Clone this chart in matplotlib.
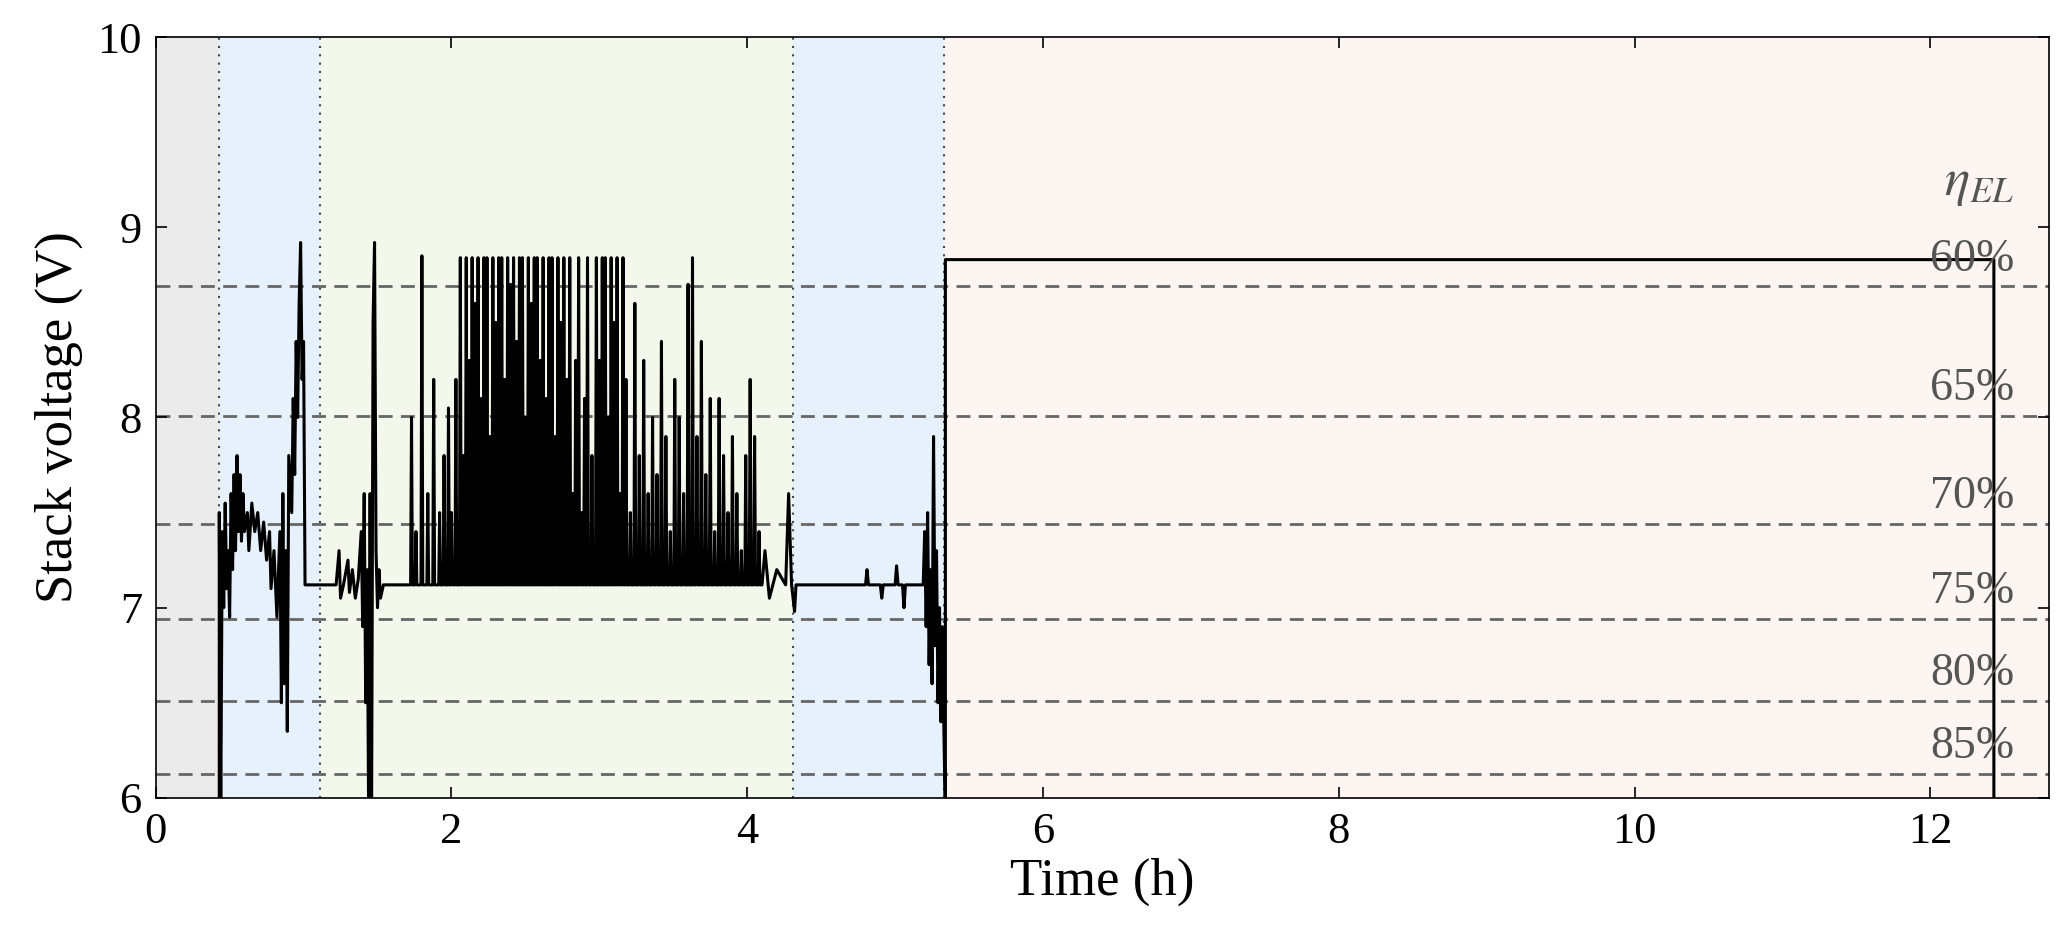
import matplotlib
matplotlib.use("Agg")
import matplotlib.pyplot as plt

plt.rcParams['font.family'] = ['Liberation Serif', 'DejaVu Serif']
plt.rcParams['mathtext.fontset'] = 'stix'

# phases (start, end, colour)
phase_edges = [0.0, 0.43, 1.11, 4.31, 5.33, 12.8]
phase_colors = ['#ebebeb', '#e6f1fb', '#f3f8ec', '#e6f1fb', '#fdf5f2']
divider_t = [0.43, 1.11, 4.31, 5.33]

eff_labels = ['60%', '65%', '70%', '75%', '80%', '85%']
eff_v = [8.69, 8.01, 7.44, 6.94, 6.51, 6.125]

base_v = 7.12
head_t = [0.43, 0.43, 0.44, 0.45, 0.46, 0.47, 0.48, 0.49, 0.50, 0.51, 0.52, 0.53, 0.54, 0.55, 0.56, 0.57, 0.58,
          0.59, 0.60, 0.62, 0.63, 0.65, 0.67, 0.69, 0.71, 0.73, 0.75, 0.77, 0.78, 0.80, 0.82, 0.84, 0.85, 0.86,
          0.87, 0.88, 0.89, 0.90, 0.92, 0.93, 0.94, 0.95, 0.96, 0.97, 0.98, 0.99, 1.00, 1.01, 1.22,
          1.24, 1.25, 1.27, 1.30, 1.31, 1.33, 1.35, 1.37, 1.39, 1.40, 1.41, 1.42, 1.43, 1.44, 1.45, 1.46, 1.47,
          1.48, 1.49, 1.50, 1.51, 1.52, 1.54, 1.70]
head_v = [5.9, 7.5, 5.9, 7.4, 7.0, 7.55, 7.1, 7.3, 6.95, 7.6, 7.2, 7.7, 7.3, 7.8, 7.4, 7.7, 7.35,
          7.6, 7.4, 7.5, 7.3, 7.55, 7.4, 7.5, 7.3, 7.45, 7.25, 7.4, 7.1, 7.3, 6.95, 7.4, 6.5, 7.6,
          6.6, 7.3, 6.35, 7.8, 7.5, 8.1, 7.7, 8.4, 8.0, 8.6, 8.92, 8.2, 8.4, 7.12, 7.12,
          7.3, 7.05, 7.12, 7.25, 7.08, 7.2, 7.05, 7.15, 7.4, 6.9, 7.6, 6.5, 7.2, 5.9, 7.6, 5.9, 8.5,
          8.92, 7.3, 7.0, 7.2, 7.05, 7.12, 7.12]

spike_t = [1.73, 1.76, 1.80, 1.84, 1.88, 1.92, 1.95, 1.98, 2.00, 2.03, 2.06, 2.08, 2.10, 2.12, 2.14, 2.16, 2.18,
           2.20, 2.22, 2.24, 2.26, 2.28, 2.30, 2.32, 2.34, 2.36, 2.38, 2.40, 2.42, 2.44, 2.46, 2.48, 2.50, 2.52,
           2.54, 2.56, 2.58, 2.60, 2.62, 2.64, 2.66, 2.68, 2.70, 2.72, 2.74, 2.76, 2.78, 2.80, 2.82, 2.84, 2.86,
           2.88, 2.90, 2.92, 2.95, 2.98, 3.00, 3.02, 3.04, 3.06, 3.08, 3.10, 3.12, 3.14, 3.16, 3.18, 3.21, 3.24,
           3.27, 3.30, 3.33, 3.36, 3.39, 3.42, 3.45, 3.48, 3.51, 3.54, 3.57, 3.60, 3.63, 3.66, 3.69, 3.72, 3.75,
           3.78, 3.81, 3.84, 3.87, 3.90, 3.93, 3.96, 3.99, 4.02, 4.05, 4.08]
spike_v = [8.0, 7.4, 8.85, 7.6, 8.2, 7.5, 7.8, 8.05, 7.5, 8.2, 8.84, 7.8, 8.84, 8.3, 8.84, 8.6, 8.84,
           8.1, 8.84, 8.84, 7.9, 8.84, 8.5, 8.84, 8.84, 8.2, 8.84, 8.7, 8.84, 8.4, 8.84, 8.84, 8.0, 8.84,
           8.6, 8.84, 8.84, 8.3, 8.84, 8.1, 8.84, 8.84, 7.9, 8.84, 8.5, 8.84, 8.2, 8.84, 7.6, 8.3, 8.84,
           7.5, 8.1, 8.84, 7.8, 8.84, 8.3, 8.84, 8.84, 8.0, 8.84, 8.5, 8.84, 7.6, 8.84, 8.2, 7.5, 8.6,
           7.8, 8.3, 7.6, 8.0, 7.7, 8.4, 7.9, 7.4, 8.2, 8.0, 7.6, 8.7, 8.84, 7.9, 8.4, 7.7, 8.1,
           7.4, 8.1, 7.8, 7.5, 7.9, 7.6, 7.3, 7.8, 8.2, 7.9, 7.4]

tail_t = [4.10, 4.12, 4.15, 4.20, 4.26, 4.28, 4.30, 4.32, 4.33, 4.80, 4.81, 4.82, 4.90, 4.91, 4.92, 5.00, 5.01, 5.02,
          5.05, 5.06, 5.07, 5.19, 5.20, 5.21, 5.22, 5.23, 5.24, 5.25, 5.26, 5.27, 5.28, 5.29, 5.30, 5.31, 5.32,
          5.33, 5.34, 5.34, 12.43, 12.43]
tail_v = [7.12, 7.3, 7.05, 7.2, 7.12, 7.6, 7.12, 6.98, 7.12, 7.12, 7.2, 7.12, 7.12, 7.05, 7.12, 7.12, 7.22, 7.12,
          7.12, 7.0, 7.12, 7.12, 7.4, 6.9, 7.5, 6.7, 7.2, 6.6, 7.9, 6.8, 7.3, 6.5, 7.0, 6.4, 6.9,
          6.35, 5.9, 8.83, 8.83, 5.9]

t = list(head_t)
v = list(head_v)
for st, sv in zip(spike_t, spike_v):
    t += [st - 0.006, st, st + 0.006]
    v += [base_v, sv, base_v]
t += tail_t
v += tail_v

fig = plt.figure(figsize=(20.62, 9.51), dpi=100)
ax = fig.add_axes([0.0755, 0.161, 0.918, 0.8])
for i, c in enumerate(phase_colors):
    ax.axvspan(phase_edges[i], phase_edges[i + 1], color=c, zorder=0, lw=0)
for d in divider_t:
    ax.axvline(d, color='#3a4a5a', ls=(0, (1, 3)), lw=1.5, zorder=1)
for lab, ev in zip(eff_labels, eff_v):
    ax.axhline(ev, color='#666666', ls=(0, (5, 3)), lw=2, zorder=1)
    ax.text(12.57, ev + 0.03, lab, ha='right', va='bottom', fontsize=33, color='#555555', zorder=3)
ax.text(12.57, 9.1, r'$\eta_{EL}$', ha='right', va='bottom', fontsize=38, color='#555555')
ax.plot(t, v, color='black', lw=2.2, zorder=2)
ax.set_xlim(0, 12.8)
ax.set_ylim(6, 10)
ax.set_xticks([0, 2, 4, 6, 8, 10, 12])
ax.set_yticks([6, 7, 8, 9, 10])
ax.tick_params(labelsize=32, direction='in', length=8, width=1.2, top=True, right=True, pad=10)
ax.set_xlabel('Time (h)', fontsize=38, labelpad=4)
ax.set_ylabel('Stack voltage (V)', fontsize=38, labelpad=10)
for s in ax.spines.values():
    s.set_linewidth(1.2)
fig.savefig('out.png', dpi=100)
